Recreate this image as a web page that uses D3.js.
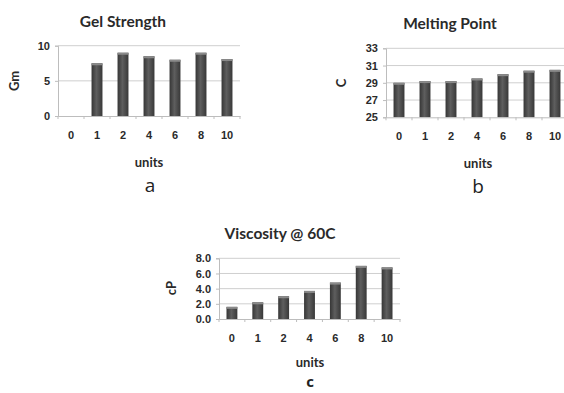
<!DOCTYPE html>
<html>
<head>
<meta charset="utf-8">
<script src="https://cdn.jsdelivr.net/npm/d3@7"></script>
<style>
  body { margin: 0; background: #fff; }
  svg { display: block; font-family: Lato, "Open Sans", sans-serif; }
</style>
</head>
<body>
<div id="drawingArea"></div>
<script>
// chart data
const categories = ["0", "1", "2", "4", "6", "8", "10"];
const gelStrength = [0, 7.5, 9.0, 8.5, 8.0, 9.0, 8.1];
const meltingPoint = [29.0, 29.2, 29.2, 29.5, 30.0, 30.4, 30.5];
const viscosity = [1.6, 2.2, 3.0, 3.7, 4.8, 7.0, 6.8];

const gelTicks = [0, 5, 10];
const meltTicks = [25, 27, 29, 31, 33];
const viscTicks = [0, 2, 4, 6, 8];

const svg = d3.select("#drawingArea").append("svg")
    .attr("width", 564)
    .attr("height", 393);

// bar shading
const defs = svg.append("defs");
const grad = defs.append("linearGradient")
    .attr("id", "barGrad")
    .attr("x1", "0%").attr("x2", "100%")
    .attr("y1", "0%").attr("y2", "0%");
grad.append("stop").attr("offset", "0%").attr("stop-color", "#363636");
grad.append("stop").attr("offset", "45%").attr("stop-color", "#5e5e5e");
grad.append("stop").attr("offset", "100%").attr("stop-color", "#383838");

function drawChart(opts) {
    const g = svg.append("g");
    const x = d3.scaleBand().domain(categories).range([opts.x0, opts.x1]).paddingInner(0.58).paddingOuter(0.29);
    const y = d3.scaleLinear().domain(opts.domain).range([opts.y1, opts.y0]);
    const step = x.step();

    // gridlines
    g.selectAll(".grid").data(opts.ticks.slice(1)).enter().append("line")
        .attr("x1", opts.x0).attr("x2", opts.x1)
        .attr("y1", d => y(d)).attr("y2", d => y(d))
        .attr("stroke", "#cfcfcf").attr("stroke-width", 1);

    // bars
    const data = categories.map((c, i) => ({ c: c, v: opts.values[i] }))
        .filter(d => d.v > opts.domain[0]);
    g.selectAll(".bar").data(data).enter().append("rect")
        .attr("x", d => x(d.c))
        .attr("width", x.bandwidth())
        .attr("y", d => y(d.v))
        .attr("height", d => y(opts.domain[0]) - y(d.v))
        .attr("fill", "url(#barGrad)");
    g.selectAll(".cap").data(data).enter().append("rect")
        .attr("x", d => x(d.c))
        .attr("width", x.bandwidth())
        .attr("y", d => y(d.v))
        .attr("height", 2)
        .attr("fill", "#8a8a8a");

    // y axis
    const yAxis = g.append("g")
        .attr("transform", `translate(${opts.x0},0)`)
        .call(d3.axisLeft(y).tickValues(opts.ticks).tickSize(3).tickPadding(5)
            .tickFormat(d => d3.format(opts.fmt)(d)));
    yAxis.select(".domain").attr("stroke", "#bdbdbd");
    yAxis.selectAll(".tick line").attr("stroke", "#bdbdbd");
    yAxis.selectAll("text").attr("font-size", 11).attr("font-weight", "bold").attr("fill", "#2a2a2a");

    // x axis
    const xAxis = g.append("g")
        .attr("transform", `translate(0,${opts.y1})`)
        .call(d3.axisBottom(x).tickSize(0).tickPadding(15));
    xAxis.select(".domain").attr("stroke", "#bdbdbd");
    xAxis.selectAll("text").attr("font-size", 11).attr("font-weight", "bold").attr("fill", "#2a2a2a");
    g.selectAll(".xtick").data(d3.range(categories.length + 1)).enter().append("line")
        .attr("x1", i => opts.x0 + i * step).attr("x2", i => opts.x0 + i * step)
        .attr("y1", opts.y1).attr("y2", opts.y1 + 3)
        .attr("stroke", "#bdbdbd");

    // titles and labels
    g.append("text").attr("x", opts.title[1]).attr("y", opts.title[2])
        .attr("text-anchor", "middle").attr("font-size", 15.5).attr("font-weight", "bold").attr("fill", "#2a2a2a")
        .text(opts.title[0]);
    g.append("text")
        .attr("transform", `translate(${opts.ylab[1]},${opts.ylab[2]}) rotate(-90)`)
        .attr("text-anchor", "middle").attr("font-size", 13).attr("font-weight", "bold").attr("fill", "#2a2a2a")
        .text(opts.ylab[0]);
    g.append("text").attr("x", opts.units[0]).attr("y", opts.units[1])
        .attr("text-anchor", "middle").attr("font-size", 13).attr("font-weight", "bold").attr("fill", "#2a2a2a")
        .text("units");
    g.append("text").attr("x", opts.letter[1]).attr("y", opts.letter[2])
        .attr("text-anchor", "middle").attr("font-size", opts.letter[3])
        .attr("font-weight", opts.letter[4]).attr("fill", "#222")
        .attr("font-family", "'Open Sans', sans-serif")
        .text(opts.letter[0]);
}

drawChart({
    x0: 58, x1: 240, y0: 45.7, y1: 116,
    domain: [0, 10], ticks: gelTicks, values: gelStrength, fmt: "d",
    title: ["Gel Strength", 123, 27], ylab: ["Gm", 19, 81],
    units: [149, 167], letter: ["a", 150, 192, 19, "normal"]
});

drawChart({
    x0: 386, x1: 568, y0: 48.3, y1: 117.3,
    domain: [25, 33], ticks: meltTicks, values: meltingPoint, fmt: "d",
    title: ["Melting Point", 450, 29], ylab: ["C", 346, 83],
    units: [478, 168], letter: ["b", 478, 193, 19, "normal"]
});

drawChart({
    x0: 219, x1: 400, y0: 258.3, y1: 319,
    domain: [0, 8], ticks: viscTicks, values: viscosity, fmt: ".1f",
    title: ["Viscosity @ 60C", 280, 239], ylab: ["cP", 176, 288],
    units: [310, 367], letter: ["c", 310, 387, 15, "bold"]
});
</script>
</body>
</html>
